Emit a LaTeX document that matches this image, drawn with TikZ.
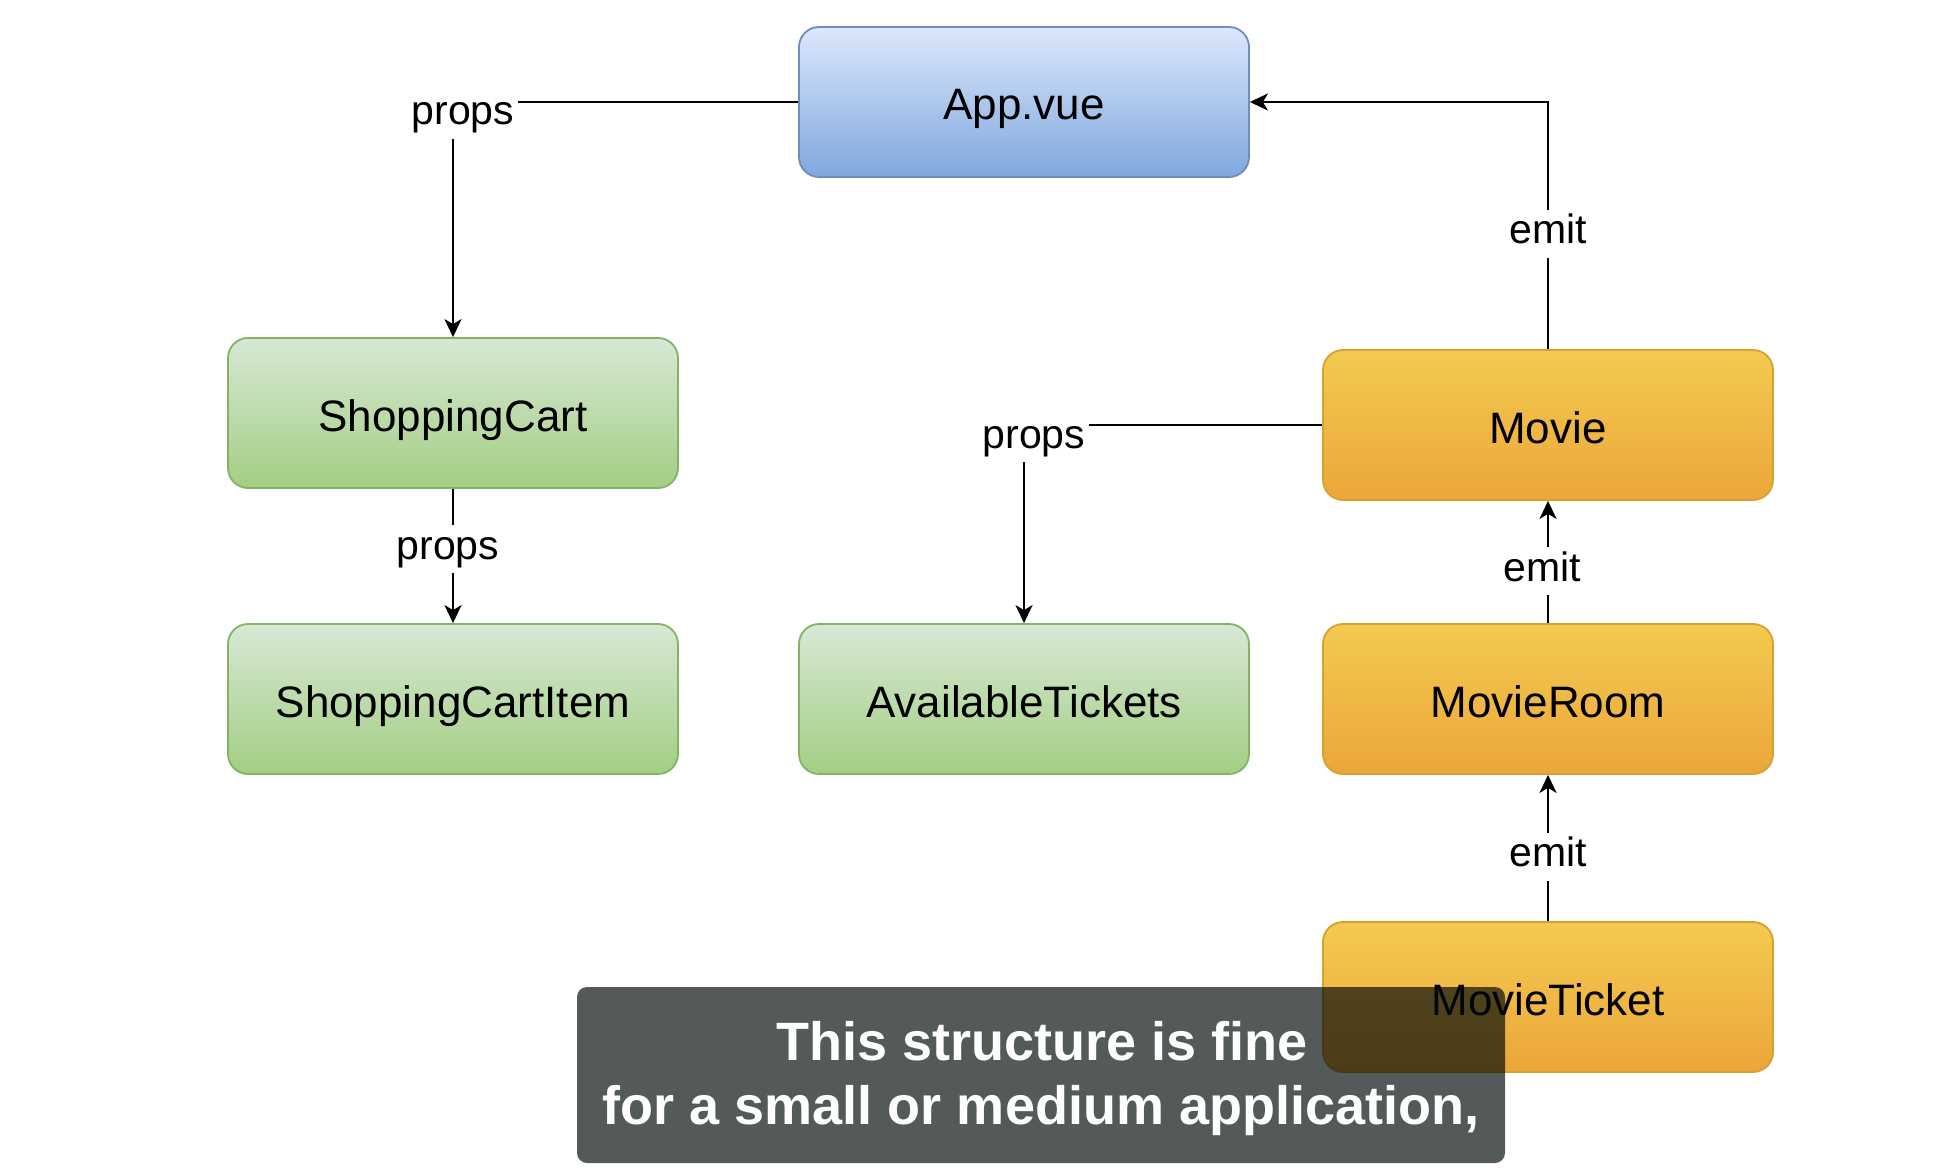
\documentclass[tikz,border=0pt]{standalone}
\usepackage{fontspec}
\setmainfont{Liberation Sans}
\usetikzlibrary{arrows.meta,shadings}
\definecolor{bluetop}{RGB}{220,232,251}
\definecolor{bluebot}{RGB}{128,167,222}
\definecolor{blueline}{RGB}{108,142,191}
\definecolor{greentop}{RGB}{215,232,213}
\definecolor{greenbot}{RGB}{163,206,131}
\definecolor{greenline}{RGB}{130,179,102}
\definecolor{orangetop}{RGB}{243,202,80}
\definecolor{orangebot}{RGB}{236,166,58}
\definecolor{orangeline}{RGB}{214,160,50}
\definecolor{capgray}{RGB}{0,8,8}
\tikzset{
  box/.style={rectangle, rounded corners=10pt, minimum width=225pt, minimum height=75pt,
    inner sep=0pt, line width=0.9pt, text height=20pt, text depth=2pt,
    font=\fontsize{22}{26}\selectfont, text=black},
  bluebox/.style={box, draw=blueline, top color=bluetop, bottom color=bluebot},
  greenbox/.style={box, draw=greenline, top color=greentop, bottom color=greenbot},
  orangebox/.style={box, draw=orangeline, top color=orangetop, bottom color=orangebot},
  edge/.style={line width=1.1pt, draw=black, -{Stealth[length=9pt, width=8.5pt, inset=2.5pt]}},
  lbl/.style={fill=white, inner sep=2pt, anchor=base, text height=15pt, text depth=5pt,
    font=\fontsize{20.5}{24}\selectfont, text=black},
  caption/.style={anchor=base, text=white, inner sep=0pt,
    font=\fontsize{27}{32}\selectfont\bfseries}
}
\begin{document}
\begin{tikzpicture}[x=0.5pt, y=-0.5pt]
\useasboundingbox (0,0) rectangle (1936,1176);

\node[bluebox]   (app)     at (1024,102)  {App.vue};
\node[greenbox]  (cart)    at (453,413)   {ShoppingCart};
\node[greenbox]  (item)    at (453,699)   {ShoppingCartItem};
\node[greenbox]  (tickets) at (1024,699)  {AvailableTickets};
\node[orangebox] (movie)   at (1548,425)  {Movie};
\node[orangebox] (room)    at (1548,699)  {MovieRoom};
\node[orangebox] (ticket)  at (1548,997)  {MovieTicket};

\draw[edge] (app.west) -| node[lbl, pos=0.5, xshift=5pt, yshift=-11.5pt] {props} (cart.north);
\draw[edge] (cart.south) -- node[lbl, xshift=-2.5pt, yshift=-1.5pt] {props} (item.north);
\draw[edge] (movie.west) -| node[lbl, pos=0.5, xshift=5pt, yshift=-11.5pt] {props} (tickets.north);
\draw[edge] (movie.north) |- node[lbl, pos=0.25, yshift=-9pt] {emit} (app.east);
\draw[edge] (room.north) -- node[lbl, xshift=-3pt, yshift=-9.5pt] {emit} (movie.south);
\draw[edge] (ticket.north) -- node[lbl, xshift=0pt, yshift=-9.25pt] {emit} (room.south);

\fill[capgray, opacity=0.67, rounded corners=5pt] (577,987) rectangle (1505,1163);
\node[caption] (cap1) at (1042,1060) {This structure is fine};
\node[caption] (cap2) at (1041,1124) {for a small or medium application,};
\end{tikzpicture}
\end{document}
